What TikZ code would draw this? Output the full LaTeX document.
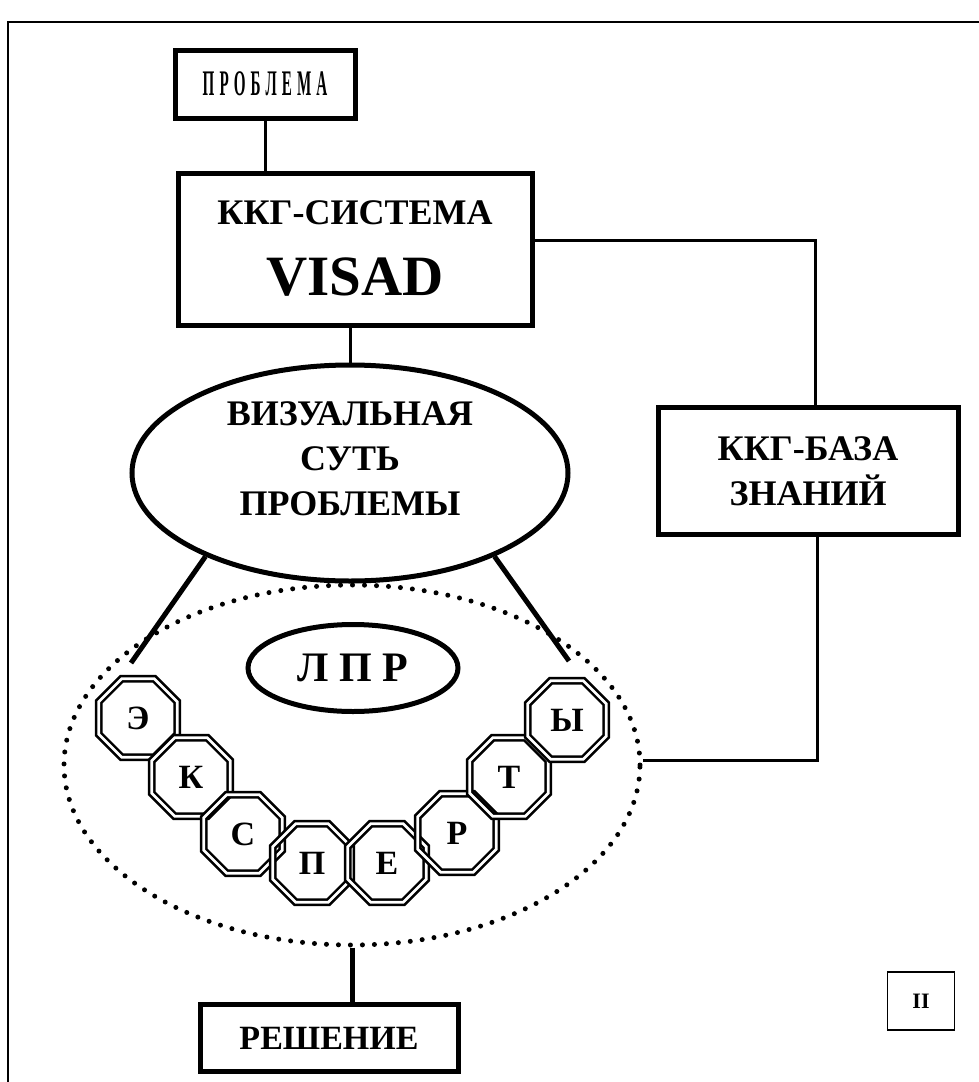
\documentclass[tikz,border=0pt]{standalone}
\usepackage{fontspec}
\setmainfont{Liberation Serif}
\usetikzlibrary{shapes.geometric,positioning}

\tikzset{
  blk/.style={draw, line width=5pt, inner sep=0pt, align=center,
    font=\bfseries\fontsize{36}{45}\selectfont},
  oval/.style={draw, ellipse, line width=5pt, inner sep=0pt, align=center,
    font=\bfseries\fontsize{36}{45}\selectfont},
  oct/.style={draw, regular polygon, regular polygon sides=8, minimum size=85pt,
    inner sep=0pt, double, double distance=2.6pt, line width=2.6pt,
    font=\bfseries\fontsize{34}{38}\selectfont},
  link/.style={line width=3pt},
  heavy/.style={line width=5pt}
}

\begin{document}
\begin{tikzpicture}[x=1pt, y=-1pt, line join=miter]
\useasboundingbox (0,0) rectangle (978,1082);
% sheet frame
\draw[line width=2pt] (8,1090) -- (8,22) -- (990,22);

\node[blk, minimum width=180pt, minimum height=68pt] (prob) at (265,84)
  {\scalebox{0.42}[1]{\fontsize{36}{40}\selectfont П\,\,Р\,\,О\,\,Б\,\,Л\,\,Е\,\,М\,\,А}};
\node[blk, minimum width=354pt, minimum height=152pt] (sys) at (355,249)
  {ККГ-СИСТЕМА\\[26pt]{\fontsize{57}{60}\selectfont VISAD}};
\node[blk, minimum width=300pt, minimum height=127pt] (base) at (808,471)
  {ККГ-БАЗА\\ЗНАНИЙ};
\node[oval, minimum width=436pt, minimum height=216pt] (vis) at (350,473) {};
\node[font=\bfseries\fontsize{36}{45}\selectfont, align=center] (vistext)
  at (350,459) {ВИЗУАЛЬНАЯ\\СУТЬ\\ПРОБЛЕМЫ};

% experts and the decision maker
\node[ellipse, draw, line width=5pt, dash pattern=on 0pt off 12pt, line cap=round,
  minimum width=576pt, minimum height=360pt] (team) at (352,765) {};
\node[oval, minimum width=210pt, minimum height=87pt,
  font=\bfseries\fontsize{42}{46}\selectfont] (lpr) at (353,668) {Л П Р};
\foreach \ch/\px/\py [count=\i] in {Э/138/718, К/191/777, С/243/834, П/312/863,
    Е/387/863, Р/457/833, Т/509/777, Ы/567/720}
  \node[oct] (o\i) at (\px,\py) {\ch};
\coordinate (lt) at (131,663);
\coordinate (rt) at (569,661);

\node[blk, minimum width=258pt, minimum height=67pt,
  font=\bfseries\fontsize{34}{40}\selectfont] (res) at (329,1038) {РЕШЕНИЕ};
\node[draw, line width=1.5pt, minimum width=67pt, minimum height=58pt,
  font=\bfseries\fontsize{22}{26}\selectfont] (num) at (921,1001) {II};

% connectors
\draw[link] (prob.south) -- (prob.south |- sys.north);
\draw[link] (vis.north) -- (vis.north |- sys.south);
\draw[link] ([yshift=9pt]sys.east) -| ([xshift=7pt]base.north);
\draw[link] ([xshift=9pt]base.south) |- ([yshift=5pt]team.east);
\draw[heavy] (vis.210) -- (lt);
\draw[heavy] (vis.330) -- (rt);
\draw[heavy] (team.south) -- (team.south |- res.north);
\end{tikzpicture}
\end{document}
